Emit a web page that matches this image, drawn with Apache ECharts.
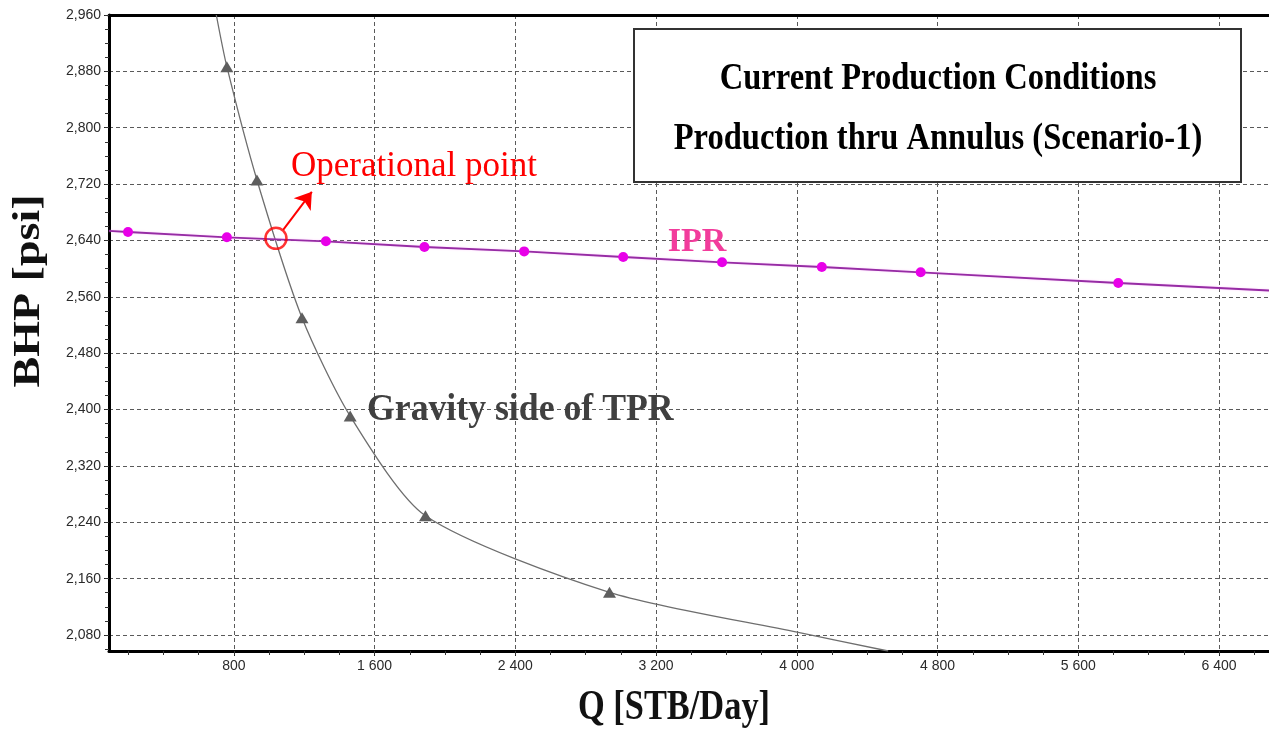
<!DOCTYPE html>
<html><head><meta charset="utf-8">
<script src="https://cdn.jsdelivr.net/npm/echarts@6/dist/echarts.min.js"></script>
<style>html,body{margin:0;padding:0;background:#fff}#c{width:1269px;height:729px}</style>
</head><body><div id="c"></div>
<script>
// ---- data ----
const qTickLabels = [800, 1600, 2400, 3200, 4000, 4800, 5600, 6400];
const bhpTickLabels = [2080, 2160, 2240, 2320, 2400, 2480, 2560, 2640, 2720, 2800, 2880, 2960];
const qRange = [90, 6684];
const bhpRange = [2057.3, 2960];

// IPR markers
const iprQ   = [198, 760, 1323, 1883, 2450, 3013, 3575, 4142, 4704, 5827];
const iprBhp = [2652, 2644.5, 2638.8, 2630.7, 2624.5, 2616.5, 2609, 2602.3, 2594.8, 2579.6];
// IPR curve ends (no markers)
const iprEndQ   = [90, 6684];
const iprEndBhp = [2653.5, 2569];

// TPR (gravity side) markers
const tprQ   = [760, 931, 1187, 1461, 1889, 2935];
const tprBhp = [2886.6, 2725.8, 2530.3, 2390.8, 2249.3, 2140.6];
// TPR curve points without markers
const tprCurveQ   = [700, 4001, 4519];
const tprCurveBhp = [2960, 2084, 2057.3];

// operational point and arrow
const opQ = [1039], opBhp = [2643];
const arrowQ = [1080, 1243], arrowBhp = [2655, 2709];

// ---- build ----
function stepList(start, end, step) {
  const out = [];
  for (let v = start; v <= end + 1e-6; v += step) out.push(v);
  return out;
}
const qMinor = stepList(200, 6600, 200);
const bhpMinor = stepList(2060, 2960, 20);

const iprData = [{value: [iprEndQ[0], iprEndBhp[0]], symbol: 'none'}]
  .concat(iprQ.map((q, i) => ({value: [q, iprBhp[i]]})))
  .concat([{value: [iprEndQ[1], iprEndBhp[1]], symbol: 'none'}]);

const tprAll = tprQ.map((q, i) => ({value: [q, tprBhp[i]]}))
  .concat(tprCurveQ.map((q, i) => ({value: [q, tprCurveBhp[i]], symbol: 'none'})))
  .sort((a, b) => a.value[0] - b.value[0]);

const fmtQ = v => {
  const s = String(Math.round(v));
  return s.length > 3 ? s.slice(0, s.length - 3) + ' ' + s.slice(-3) : s;
};
const fmtB = v => {
  const s = String(Math.round(v));
  return s.length > 3 ? s.slice(0, s.length - 3) + ',' + s.slice(-3) : s;
};

const labelFont = {color: '#2a2a2a', fontSize: 14, fontFamily: 'Liberation Sans, Arial, sans-serif'};
const gridLine = {show: true, lineStyle: {type: [4, 3], color: '#5a5a5a', width: 1}};
const serif = 'Liberation Serif, "Times New Roman", serif';

const chart = echarts.init(document.getElementById('c'), null, {renderer: 'canvas'});
chart.setOption({
  animation: false,
  backgroundColor: '#fff',
  grid: {left: 109, top: 15, right: 0, bottom: 78, containLabel: false},
  xAxis: [
    {type: 'value', min: qRange[0], max: qRange[1], position: 'bottom',
     axisLine: {show: true, onZero: false, lineStyle: {color: '#000', width: 3}},
     axisTick: {show: true, customValues: qTickLabels, length: 5, lineStyle: {color: '#222'}},
     axisLabel: Object.assign({customValues: qTickLabels, formatter: fmtQ, margin: 8}, labelFont),
     splitLine: gridLine},
    {type: 'value', min: qRange[0], max: qRange[1], position: 'bottom',
     axisLine: {show: false, onZero: false},
     axisTick: {show: true, customValues: qMinor, length: 4, lineStyle: {color: '#333'}},
     axisLabel: {show: false}, splitLine: {show: false}},
    {type: 'value', min: qRange[0], max: qRange[1], position: 'top',
     axisLine: {show: true, onZero: false, lineStyle: {color: '#000', width: 3}},
     axisTick: {show: false}, axisLabel: {show: false}, splitLine: {show: false}}
  ],
  yAxis: [
    {type: 'value', min: bhpRange[0], max: bhpRange[1], position: 'left',
     axisLine: {show: true, onZero: false, lineStyle: {color: '#000', width: 3}},
     axisTick: {show: true, customValues: bhpTickLabels, length: 5, lineStyle: {color: '#222'}},
     axisLabel: Object.assign({customValues: bhpTickLabels, formatter: fmtB, margin: 8}, labelFont),
     splitLine: gridLine},
    {type: 'value', min: bhpRange[0], max: bhpRange[1], position: 'left',
     axisLine: {show: false, onZero: false},
     axisTick: {show: true, customValues: bhpMinor, length: 4, lineStyle: {color: '#333'}},
     axisLabel: {show: false}, splitLine: {show: false}}
  ],
  series: [
    {name: 'IPR', type: 'line', xAxisIndex: 0, yAxisIndex: 0, data: iprData,
     symbol: 'circle', symbolSize: 10, z: 5,
     itemStyle: {color: '#e800e8'},
     lineStyle: {color: '#962ca4', width: 1.8, shadowColor: 'rgba(255,150,255,0.5)', shadowBlur: 2}},
    {name: 'TPR', type: 'line', xAxisIndex: 0, yAxisIndex: 0, data: tprAll,
     smooth: 0.25, symbol: 'triangle', symbolSize: [13, 11], z: 4,
     itemStyle: {color: '#5e5e5e'},
     lineStyle: {color: '#6e6e6e', width: 1.3}},
    {name: 'Operational point', type: 'scatter', xAxisIndex: 0, yAxisIndex: 0,
     data: opQ.map((q, i) => [q, opBhp[i]]), symbol: 'circle', symbolSize: 21, z: 6,
     itemStyle: {color: 'transparent', borderColor: '#ff0000', borderWidth: 2.5}},
    {name: 'Arrow', type: 'lines', coordinateSystem: 'cartesian2d', xAxisIndex: 0, yAxisIndex: 0,
     z: 7, symbol: ['none', 'arrow'], symbolSize: 16,
     lineStyle: {color: '#ff0000', width: 2, opacity: 1},
     data: [{coords: [[arrowQ[0], arrowBhp[0]], [arrowQ[1], arrowBhp[1]]]}]}
  ],
  graphic: [
    {type: 'rect', z: 100, shape: {x: 634, y: 29, width: 607, height: 153},
     style: {fill: '#fff', stroke: '#333', lineWidth: 2}},
    {type: 'text', z: 101, x: 938, y: 79, scaleX: 0.88,
     style: {text: 'Current Production Conditions', font: 'bold 37px ' + serif, fill: '#000', align: 'center', verticalAlign: 'middle'}},
    {type: 'text', z: 101, x: 938, y: 139, scaleX: 0.88,
     style: {text: 'Production thru Annulus (Scenario-1)', font: 'bold 37px ' + serif, fill: '#000', align: 'center', verticalAlign: 'middle'}},
    {type: 'text', z: 101, x: 697, y: 242,
     style: {text: 'IPR', font: 'bold 34px ' + serif, fill: '#f23c9c', align: 'center', verticalAlign: 'middle'}},
    {type: 'text', z: 101, x: 367, y: 410, scaleX: 0.94,
     style: {text: 'Gravity side of TPR', font: 'bold 38px ' + serif, fill: '#404040', align: 'left', verticalAlign: 'middle'}},
    {type: 'text', z: 101, x: 291, y: 167,
     style: {text: 'Operational point', font: '35px ' + serif, fill: '#ff0000', align: 'left', verticalAlign: 'middle'}},
    {type: 'text', z: 101, x: 29, y: 291, rotation: Math.PI / 2, scaleY: 0.82,
     style: {text: 'BHP [psi]', font: 'bold 46px ' + serif, fill: '#111', align: 'center', verticalAlign: 'middle'}},
    {type: 'text', z: 101, x: 674, y: 708, scaleX: 0.8,
     style: {text: 'Q [STB/Day]', font: 'bold 43px ' + serif, fill: '#111', align: 'center', verticalAlign: 'middle'}}
  ]
});
</script>
</body></html>
